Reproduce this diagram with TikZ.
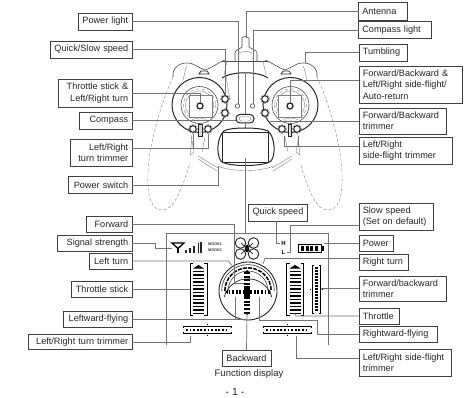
\documentclass[tikz,border=0pt]{standalone}
\usepackage{fontspec}
\setmainfont{Liberation Sans}
\begin{document}
\begin{tikzpicture}[x=1pt,y=-1pt,
  lab/.style={draw=black!75,line width=0.75pt,inner ysep=0pt,inner xsep=3.8pt,outer sep=0pt,fill=white,font=\fontsize{9.15}{11.3}\selectfont,text=black!85},
  labr/.style 2 args={lab,minimum height=#2,text width=#1-7.6pt,align=right},
  labl/.style 2 args={lab,minimum height=#2,text width=#1-7.6pt,align=left},
  lead/.style={draw=black!55,line width=0.7pt},
  thin line/.style={draw=black!50,line width=0.4pt},
  body/.style={draw=black!70,line width=0.6pt},
  heavy/.style={draw=black!85,line width=1pt},
  capt/.style={font=\fontsize{9.5}{10}\selectfont,text=black!85,inner sep=0pt}]
\useasboundingbox (0,0) rectangle (465,398);
\fill[white] (0,0) rectangle (465,398);

% ---------- controller ----------
\foreach \m in {1,-1}{
\begin{scope}[shift={(245,0)},xscale=\m]
 \draw[thin line,densely dashed] (-72,77) .. controls (-85,105) and (-97,150) .. (-97,175) .. controls (-98,200) and (-92,210) .. (-83,210) .. controls (-72,210) and (-65,195) .. (-55,163);
 \draw[body] (-72,77) .. controls (-73,68) and (-66,63) .. (-58,63) .. controls (-50,63) and (-47,68) .. (-40,70) .. controls (-33,68) and (-28,63) .. (-20,60);
 \draw[thin line] (-62,80) .. controls (-60,74) and (-60,68) .. (-58,66);
 \draw[heavy,line width=0.7pt] (-46,74) -- (-36,74) -- (-38,71) -- (-44,71) -- cycle;
 \draw[heavy] (-45.5,105) circle[radius=27.5];
 \draw[body] (-45.5,105) circle[radius=18.5];
 \draw[thin line,dashed] (-45.5,105) circle[radius=16];
 \draw[thin line] (-45.5,105) circle[radius=14];
 \draw[thin line,fill=white] (-56,95) rectangle (-33,117);
 \draw[heavy,line width=1.3pt] (-45,106) circle[radius=3];
 \foreach \yy in {99,113}{\draw[heavy,fill=white] (-20,\yy) circle[radius=3.3];\draw[thin line] (-20,\yy) circle[radius=4.5];}
 \foreach \xx in {-52,-37}{\draw[heavy,fill=white] (\xx,129) circle[radius=3.3];\draw[thin line] (\xx,129) circle[radius=4.5];}
 \draw[heavy,fill=black!15] (-46.5,125) rectangle (-43,137);
 \draw[thin line] (-54,135) -- (-51,152) -- (-55,155) -- (-53,137);
 \draw[thin line] (-40,137) -- (-43,152);
 \draw[thin line] (-47,156) -- (-27,168);
 \draw[thin line] (-47,159) -- (-28,171);
 \draw[body] (-7.5,106) circle[radius=2.2];
\end{scope}}
\draw[body] (222,61) -- (268,61);
\draw[thin line] (227,61) -- (224,75);
\draw[thin line] (263,61) -- (266,75);
\draw[heavy] (222,78) .. controls (232,71) and (258,71) .. (268,78);
\draw[thin line] (226,76) -- (230,100);
\draw[thin line] (245,72) -- (245,118);
\draw[body] (235,61) -- (235,53) .. controls (235,50) and (240,49) .. (242,47) -- (242,38) .. controls (243,36) and (247,36) .. (249,38) -- (249,47) .. controls (251,49) and (257,50) .. (257,53) -- (257,61);
\draw[thin line] (239,61) -- (239,53) .. controls (242,51) and (249,51) .. (252,53) -- (252,61);
\draw[heavy,fill=white,rounded corners=4pt] (236,114.5) rectangle (254,123);
\draw[thin line,rounded corners=2.5pt] (239,116.5) rectangle (251,121);
\draw[lead] (245,123) -- (245,128);
\draw[heavy] (245,128) .. controls (235,128) and (227,129) .. (224,131) .. controls (217,137) and (216,155) .. (221,161) .. controls (226,167) and (264,167) .. (271,161) .. controls (276,155) and (275,137) .. (268,131) .. controls (264,129) and (255,128) .. (245,128);
\draw[heavy] (222.5,132.5) rectangle (268.5,162.5);
\draw[thin line] (218,166) .. controls (230,172) and (262,172) .. (273,166);

% ---------- display frame ----------
\coordinate (fbl) at (166.5,344.5);
\coordinate (ftl) at (166.5,233);
\coordinate (ftr) at (328,233);
\coordinate (fbr) at (328,344.5);
\draw[lead] (fbl) -- (ftl) -- (ftr) -- (fbr);

\draw[black,line width=1.3pt] (172,243) -- (178,248.5) -- (184,243) -- cycle;
\draw[black,line width=1.5pt] (178,248) -- (178,253);
\foreach \xx/\yy in {186/250,190/248,194/246,198.5/243,201/242}{\draw[black!85,line width=1.4pt] (\xx,\yy) -- (\xx,252.5);}
\node[inner sep=0pt,font=\fontsize{3.8}{4}\selectfont\bfseries,text=black!75] (m1) at (215,244.5) {MODE1};
\node[inner sep=0pt,font=\fontsize{3.8}{4}\selectfont\bfseries,text=black!75] (m2) at (215,250.5) {MODE2};

\foreach \dx in {-6.5,6.5}\foreach \dy in {-5.5,5.5}{\draw[black!85,line width=0.9pt] (247+\dx,248.5+\dy) circle[radius=5.3];}
\fill[black] (247,248.5) ellipse[x radius=2.2,y radius=4];
\draw[black!85,line width=0.7pt] (241,243) -- (253,254) (253,243) -- (241,254);

\node[inner sep=0pt,font=\fontsize{6}{6}\selectfont\bfseries,text=black] (hh) at (283.5,243) {H};
\node[inner sep=0pt,font=\fontsize{6}{6}\selectfont\bfseries,text=black] (ll) at (283.5,252) {L};

\draw[black,line width=1pt] (298,244) rectangle (321,252.5);
\fill[black] (321,245.5) rectangle (323.5,251);
\foreach \xx in {301,305.5,310,314.5}{\fill[black] (\xx,245.5) rectangle (\xx+3.3,251);}

\foreach \ox in {190,286.5}{
 \draw[black,line width=0.9pt] (\ox+3,263.5) -- (\ox,263.5) -- (\ox,315.5) -- (\ox+3,315.5);
 \draw[black,line width=0.9pt] (\ox+14,263.5) -- (\ox+17,263.5) -- (\ox+17,315.5) -- (\ox+14,315.5);
 \fill[black] (\ox+3,268.5) -- (\ox+8.5,265) -- (\ox+14,268.5) -- cycle;
 \foreach \i in {0,...,11}{\fill[black] (\ox+3,270.5+\i*3.5) rectangle (\ox+14,272.3+\i*3.5);}
 \fill[black] (\ox+3,270.5+42) rectangle (\ox+14,314);
}

\draw[black,line width=0.9pt] (314,265) -- (312,265) -- (312,313) -- (314,313);
\draw[black,line width=0.9pt] (318.5,265) -- (320.5,265) -- (320.5,313) -- (318.5,313);
\foreach \i in {0,...,14}{\fill[black] (314.8,267+\i*3) rectangle (317.8,268.8+\i*3);}
\draw[black,line width=0.9pt] (309.5,289) -- (311,289) (321.5,289) -- (323,289);

\foreach \ox in {183,263}{
 \draw[black,line width=0.9pt] (\ox,328) -- (\ox,326.5) -- (\ox+48,326.5) -- (\ox+48,328);
 \draw[black,line width=0.9pt] (\ox,331.5) -- (\ox,333) -- (\ox+48,333) -- (\ox+48,331.5);
 \foreach \i in {0,...,11}{\fill[black] (\ox+3+\i*3.6,328.5) rectangle (\ox+4.8+\i*3.6,331);}
 \draw[black,line width=0.9pt] (\ox+24,323.5) -- (\ox+24,325) (\ox+24,334.5) -- (\ox+24,336);
}

% dial
\draw[black!85,line width=0.9pt] (248,291) circle[radius=29];
\draw[black!85,line width=0.7pt] (224.2,297) arc[start angle=195,end angle=345,radius=24.6];
\draw[black!80,line width=0.6pt] (221.6,291) arc[start angle=180,end angle=0,x radius=26.4,y radius=-26.4];
\draw[black!80,line width=0.5pt] (228,291) arc[start angle=180,end angle=0,x radius=20,y radius=-20];
\draw[black,line width=1.5pt,dash pattern=on 4pt off 1.2pt] (224.8,291) arc[start angle=180,end angle=0,x radius=23.2,y radius=-23.2];
\foreach \i in {0,...,11}{\fill[black] (244,272+\i*3.6) rectangle (250,273.9+\i*3.6);}
\foreach \i in {0,...,11}{\fill[black] (228.5+\i*3.6,289.5) rectangle (230.3+\i*3.6,294);}
\fill[black] (244,286) rectangle (250,298);
\fill[black] (225,292) -- (228,290) -- (228,294) -- cycle;
\fill[black] (271,292) -- (268,290) -- (268,294) -- cycle;
\fill[black] (247,270) -- (245,272) -- (249,272) -- cycle;
\fill[black] (247,315) -- (245,313) -- (249,313) -- cycle;

% ---------- labels: right column ----------
\node[labl={48.5pt}{17.5pt}] (antenna) at (382.75,11.25) {Antenna};
\node[labl={72.5pt}{17pt}] (clight) at (394.75,30) {Compass light};
\node[labl={48pt}{17pt}] (tumbling) at (383,52.5) {Tumbling};
\node[labl={103pt}{37pt}] (fbig) at (410.5,84.5) {Forward/Backward \&\\Left/Right side-flight/\\Auto-return};
\node[labl={87pt}{26pt}] (fbtrim) at (402.5,121) {Forward/Backward\\trimmer};
\node[labl={93pt}{27pt}] (sidetrim) at (405.5,150.5) {Left/Right\\side-flight trimmer};
% left column
\node[labr={54pt}{17pt}] (plight) at (105,21.5) {Power light};
\node[labr={82pt}{17pt}] (qsspeed) at (91,49.5) {Quick/Slow speed};
\node[labr={74pt}{28pt}] (thrturn) at (95,93) {Throttle stick \&\\Left/Right turn};
\node[labr={53pt}{17pt}] (compass) at (105.5,120.5) {Compass};
\node[labr={62pt}{27pt}] (turntrim) at (101,152.5) {Left/Right\\turn trimmer};
\node[labr={64pt}{16.5pt}] (pswitch) at (100,185) {Power switch};
% lower labels
\node[lab,minimum width=58pt,minimum height=17pt,align=center] (qspeed) at (278,212.5) {Quick speed};
\node[labl={74pt}{27pt}] (sspeed) at (396,216.5) {Slow speed\\(Set on default)};
\node[labl={34pt}{16pt}] (power) at (376,243) {Power};
\node[labl={49pt}{16pt}] (rturn) at (383.5,262) {Right turn};
\node[labl={87pt}{25pt}] (dfbtrim) at (402.5,288.5) {Forward/backward\\trimmer};
\node[labl={40pt}{16pt}] (throttle) at (379,316) {Throttle};
\node[labl={78pt}{16pt}] (rwfly) at (398,334) {Rightward-flying};
\node[labl={92pt}{27pt}] (dside) at (405,362.5) {Left/Right side-flight\\trimmer};
\node[labr={46pt}{16pt}] (forward) at (109,224.25) {Forward};
\node[labr={75pt}{16pt}] (signal) at (94.5,243) {Signal strength};
\node[labr={43pt}{16pt}] (lturn) at (110.5,261) {Left turn};
\node[labr={61pt}{16pt}] (dthr) at (101.5,289) {Throttle stick};
\node[labr={69pt}{16pt}] (lwfly) at (97.5,319) {Leftward-flying};
\node[labr={104pt}{15pt}] (dturn) at (80,342) {\raisebox{-1.2pt}{Left/Right turn trimmer}};
\fill[white] (30,346.2) rectangle (130,347.6);
\node[lab,minimum width=49pt,minimum height=16pt,align=center] (backward) at (246.5,358) {Backward};
\node[capt] (fdisp) at (249,374) {Function display};
\node[capt,font=\fontsize{10.5}{12}\selectfont] (pageno) at (235,391.5) {- 1 -};

% ---------- free ends ----------
\coordinate (eant) at (246,38);
\coordinate (eclight) at (253,103.8);
\coordinate (etumb) at (305,63);
\coordinate (efbig) at (290,103);
\coordinate (efbtrim) at (270,121);
\coordinate (eside) at (298,136);
\coordinate (esidea) at (284,146);
\coordinate (esideb) at (284,136);
\coordinate (eplight) at (238,103.8);
\coordinate (eqs) at (225,94);
\coordinate (ethr) at (200,103);
\coordinate (ecomp) at (236,120.5);
\coordinate (etrim) at (208,134);
\coordinate (etrima) at (193,148);
\coordinate (etrimb) at (193,134);
\coordinate (esw) at (218,166);
\coordinate (escreen) at (245.5,158);
\coordinate (ftop) at (245.5,233);
\coordinate (eqsp) at (280,243);
\coordinate (essp) at (287,252);
\coordinate (efwd) at (244,283);
\coordinate (esig) at (172,248.5);
\coordinate (elt) at (232,265.5);
\coordinate (eltb) at (228.5,261);
\coordinate (ert) at (263,264);
\coordinate (ertb) at (265,258.5);
\coordinate (edthr) at (190,289);
\coordinate (elw) at (235,297);
\coordinate (elwe) at (244,319);
\coordinate (erw) at (259,297);
\coordinate (erwb) at (317,320.5);
\coordinate (edturn) at (190,336);
\coordinate (edside) at (296,336);
\coordinate (epow) at (324,243);
\coordinate (edfb) at (321,288.5);
\coordinate (ethrl) at (296,316);
\coordinate (ethrm) at (294.5,313.5);
\coordinate (eback) at (247,313);

% ---------- leads ----------
\draw[lead] (antenna.west) -| (eant);
\draw[lead] (clight.west) -| (eclight);
\draw[lead] (tumbling.west) -| (etumb);
\draw[lead] ([yshift=4.5pt]fbig.west) -| (efbig);
\draw[lead] (fbtrim.west) -- (efbtrim);
\draw[lead] ([yshift=4.5pt]sidetrim.west) -| (eside);
\draw[lead] (esidea) -- (esidea -| eside) (esidea) -- (esideb);
\draw[lead] (plight.east) -| (eplight);
\draw[lead] (qsspeed.east) -| (eqs);
\draw[lead] (thrturn.east) -| (ethr);
\draw[lead] (compass.east) -- (ecomp);
\draw[lead] ([yshift=4.5pt]turntrim.east) -| (etrim);
\draw[lead] (etrima) -- (etrimb);
\draw[lead] (pswitch.east) -| (esw);
\draw[lead] (escreen) -- (ftop);
\draw[lead] ([xshift=-2pt]qspeed.south) |- (eqsp);
\draw[lead] ([yshift=-8.5pt]sspeed.west) -| (essp -| 290,0) |- (essp);
\draw[lead] (power.west) -- (epow);
\draw[lead] ([yshift=3.5pt]rturn.west) -- (ertb) -- (ert);
\draw[lead] (dfbtrim.west) -- (edfb);
\draw[lead] (throttle.west) -- (ethrl) -- (ethrm);
\draw[lead] (rwfly.west) -| (erwb) -- (erwb -| erw) -- (erw);
\draw[lead] ([yshift=4.5pt]dside.west) -| (edside);
\draw[lead] (forward.east) -| (efwd -| 234,0) |- (efwd);
\draw[lead] (signal.east) -- ++(23,0) |- (esig);
\draw[lead] (lturn.east) -- (eltb) -- (elt);
\draw[lead] (dthr.east) -- (edthr);
\draw[lead] (lwfly.east) -- (elwe);
\draw[lead] (elw) -- (elw |- elwe);
\draw[lead] (dturn.east) -| (edturn);
\draw[lead] (backward.north) -- (eback);
\end{tikzpicture}
\end{document}
